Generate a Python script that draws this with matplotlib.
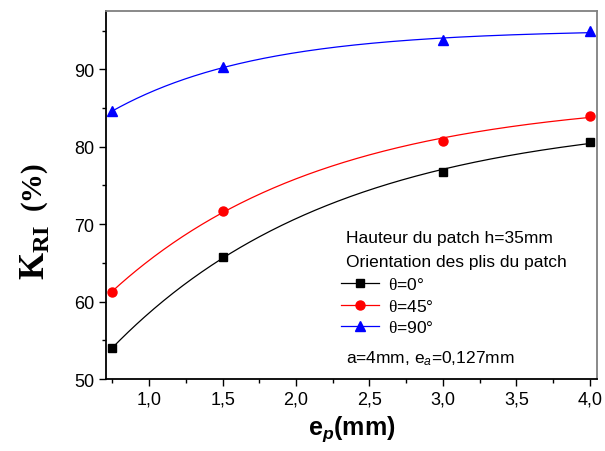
import numpy as np
import matplotlib
matplotlib.use("Agg")
import matplotlib.pyplot as plt
from matplotlib.ticker import MultipleLocator, FuncFormatter

plt.rcParams['mathtext.fontset'] = 'custom'
plt.rcParams['mathtext.rm'] = 'Liberation Serif'
plt.rcParams['mathtext.bf'] = 'Liberation Serif:bold'
plt.rcParams['mathtext.it'] = 'Liberation Sans:italic'
plt.rcParams['mathtext.bfit'] = 'Liberation Sans:bold:italic'

# --- données ---
ep = [0.75, 1.5, 3.0, 4.0]
k_0 = [54.0, 65.8, 76.8, 80.6]
k_45 = [61.3, 71.7, 80.8, 84.0]
k_90 = [84.6, 90.3, 93.8, 94.9]

series = [
    (k_0, 'black', 's', 6, r'$\mathrm{\theta}$=0°'),
    (k_45, 'red', 'o', 6.5, r'$\mathrm{\theta}$=45°'),
    (k_90, 'blue', '^', 7.5, r'$\mathrm{\theta}$=90°'),
]


def fit_exp(x, y):
    """ajustement y = A - B*exp(-x/t)"""
    x = np.asarray(x); y = np.asarray(y)
    best = None
    for t in np.linspace(0.2, 10, 2000):
        M = np.column_stack([np.ones_like(x), np.exp(-x / t)])
        c, *_ = np.linalg.lstsq(M, y, rcond=None)
        r = np.sum((M @ c - y)**2)
        if best is None or r < best[0]:
            best = (r, c, t)
    _, c, t = best
    return lambda xq: c[0] + c[1] * np.exp(-xq / t)


fig = plt.figure(figsize=(6.05, 4.52), dpi=100)
ax = fig.add_axes([0.175, 0.159, 0.812, 0.814])

xs = np.linspace(ep[0], ep[-1], 300)
for y, col, mk, ms, lab in series:
    f = fit_exp(ep, y)
    ax.plot(xs, f(xs), color=col, lw=0.9)
    ax.plot(ep, y, linestyle='none', marker=mk, color=col, ms=ms)
    ax.plot([], [], color=col, lw=0.9, marker=mk, ms=ms, label=lab)

ax.set_xlim(0.705, 4.05)
ax.set_ylim(50, 97.5)
ax.xaxis.set_major_locator(MultipleLocator(0.5))
ax.xaxis.set_minor_locator(MultipleLocator(0.25))
ax.yaxis.set_major_locator(MultipleLocator(10))
ax.yaxis.set_minor_locator(MultipleLocator(5))
ax.xaxis.set_major_formatter(FuncFormatter(lambda v, p: f"{v:.1f}".replace('.', ',')))
ax.tick_params(which='major', direction='out', length=5, width=1,
               labelsize=13, top=False, right=False)
ax.tick_params(which='minor', direction='out', length=3, width=1,
               top=False, right=False)
for lbl in ax.get_xticklabels() + ax.get_yticklabels():
    lbl.set_fontfamily('Liberation Sans')
for s in ['left', 'bottom']:
    ax.spines[s].set_linewidth(1.3)
for s in ['top', 'right']:
    ax.spines[s].set_color('#808080')
    ax.spines[s].set_linewidth(1.3)

ax.set_xlabel(r'e$_{\mathbfit{p}}$(mm)', fontfamily='Liberation Sans',
              fontweight='bold', fontsize=18, labelpad=4)

# étiquette y en deux morceaux (K_RI grand, (%) plus petit)
fig.text(35 / 605, 1 - 280 / 452, r'$\mathbf{K}_{\mathbf{RI}}$', rotation=90,
         ha='center', va='bottom', fontsize=25)
fig.text(33 / 605, 1 - 161 / 452, '(%)', rotation=90, ha='center', va='top',
         fontsize=21, fontfamily='Liberation Serif', fontweight='bold')

fs = 12.5
fig.text(346 / 605, 1 - 239 / 452, 'Hauteur du patch h=35mm', fontsize=fs,
         fontfamily='Liberation Sans', va='center')
fig.text(346 / 605, 1 - 263 / 452, 'Orientation des plis du patch', fontsize=fs,
         fontfamily='Liberation Sans', va='center')
fig.text(346 / 605, 1 - 359 / 452, r'a=4mm, e$_{a}$=0,127mm', fontsize=fs,
         fontfamily='Liberation Sans', va='center')
leg = fig.legend(loc='upper left', bbox_to_anchor=(341 / 605, 1 - 277 / 452),
                 frameon=False, borderpad=0, borderaxespad=0, handlelength=2.2,
                 handletextpad=0.5, labelspacing=0.33,
                 prop={'family': 'Liberation Sans', 'size': fs})

fig.savefig('out.png', dpi=100)
